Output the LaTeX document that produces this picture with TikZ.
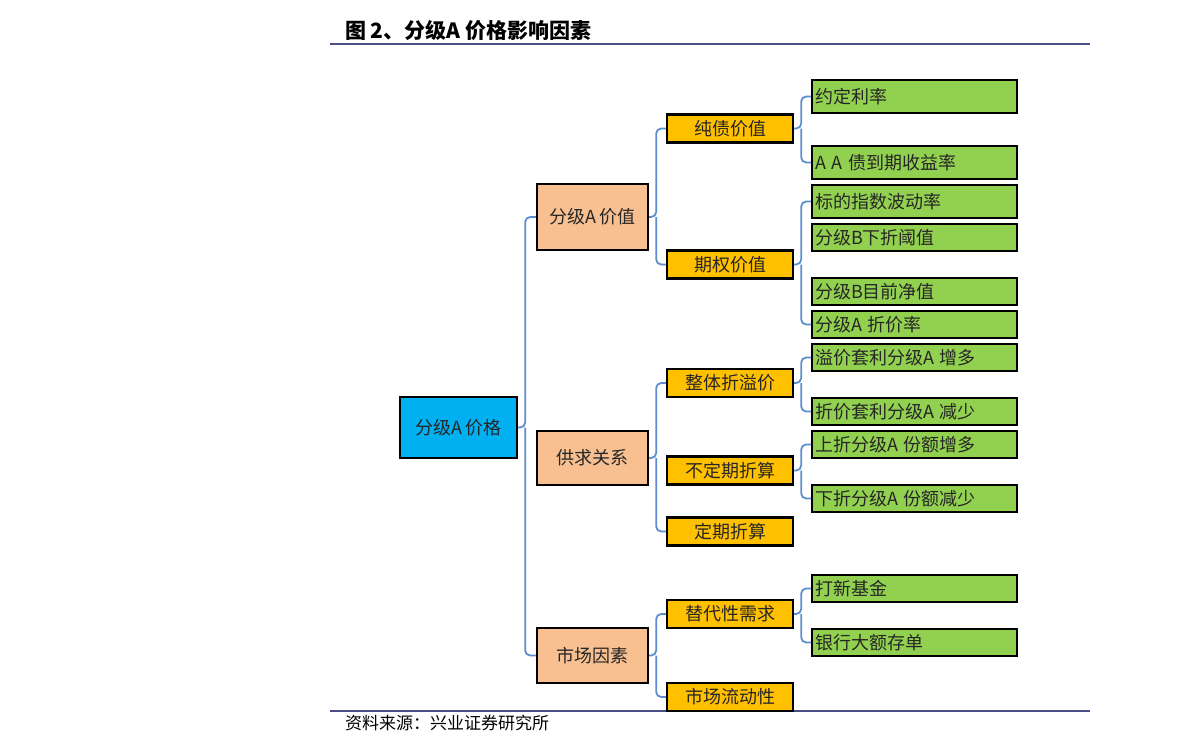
\documentclass[tikz,border=0pt]{standalone}
\usepackage{fontspec}
\setmainfont{Noto Sans CJK SC}
\usepackage{xcolor}
\definecolor{rootblue}{HTML}{00B0F0}
\definecolor{peach}{HTML}{F8C091}
\definecolor{amber}{HTML}{FFC000}
\definecolor{leafgreen}{HTML}{92D050}
\definecolor{linkblue}{HTML}{5B8DD0}
\definecolor{rulecol}{HTML}{4A4F86}
\usetikzlibrary{positioning}

\tikzset{
  box/.style={draw=black, line width=1.2pt, inner sep=0pt, font=\fontsize{9}{11}\selectfont, text=black!85},
  rootbox/.style={box, fill=rootblue, minimum width=58.5pt, minimum height=30.5pt},
  factor/.style={box, fill=peach, minimum width=55.5pt, minimum height=27pt},
  part/.style={box, fill=amber, minimum width=63pt, minimum height=14pt},
  leaf/.style={box, fill=leafgreen, text width=99.5pt, inner xsep=1.5pt, align=left, minimum height=13.5pt},
  link/.style={draw=linkblue, line width=0.9pt, rounded corners=2.5pt}
}
% accolade : parent, enfant du haut, enfant du bas
\newcommand{\bracelink}[3]{%
  \draw[link] (#1.east) -- ++(7,0) coordinate (b) |- (#2.west);
  \draw[link] (b) |- (#3.west);
}

\begin{document}
\begin{tikzpicture}[x=0.5pt, y=-0.5pt]
  \useasboundingbox (0,0) rectangle (1191,755);
  % Titre et filets
  \node[anchor=west, font=\fontsize{10.5}{12}\selectfont\bfseries] (title) at (338,31) {图 2、分级A 价格影响因素};
  \draw[rulecol, line width=1pt] (330,44) -- (1090,44);
  \draw[rulecol, line width=1pt] (330,711) -- (1090,711);
  \node[anchor=west, font=\fontsize{8.5}{10}\selectfont] (src) at (338,723) {资料来源：兴业证券研究所};

  % Racine
  \node[rootbox] (price) at (458.5,427.5) {分级A 价格};

  % Facteurs
  \node[factor, minimum height=33pt] (value) at (592.5,217) {分级A 价值};
  \node[factor] (supply) at (592.5,458) {供求关系};
  \node[factor, minimum height=27.5pt] (market) at (592.5,655.5) {市场因素};

  % Composantes
  \node[part] (bond) at (730,128.5) {纯债价值};
  \node[part] (option) at (730,264.5) {期权价值};
  \node[part] (whole) at (730,383) {整体折溢价};
  \node[part] (irreg) at (730,470.5) {不定期折算};
  \node[part] (reg) at (730,531.5) {定期折算};
  \node[part] (subst) at (730,614) {替代性需求};
  \node[part] (liquid) at (730,697) {市场流动性};

  % Feuilles
  \node[leaf, minimum height=16.5pt] (rate) at (914.5,96.5) {约定利率};
  \node[leaf, minimum height=16.5pt] (ytm) at (914.5,162.5) {A A 债到期收益率};
  \node[leaf, minimum height=16.5pt] (vol) at (914.5,201.5) {标的指数波动率};
  \node[leaf] (thresh) at (914.5,237.5) {分级B下折阈值};
  \node[leaf] (nav) at (914.5,291.5) {分级B目前净值};
  \node[leaf] (disc) at (914.5,324.5) {分级A 折价率};
  \node[leaf] (prem) at (914.5,357.5) {溢价套利分级A 增多};
  \node[leaf] (arb) at (914.5,411.5) {折价套利分级A 减少};
  \node[leaf] (up) at (914.5,444.5) {上折分级A 份额增多};
  \node[leaf] (down) at (914.5,498.5) {下折分级A 份额减少};
  \node[leaf] (ipo) at (914.5,588.5) {打新基金};
  \node[leaf] (cd) at (914.5,642.5) {银行大额存单};

  % Liaisons
  \bracelink{price}{value}{market}
  \bracelink{value}{bond}{option}
  \bracelink{supply}{whole}{reg}
  \bracelink{market}{subst}{liquid}
  \bracelink{bond}{rate}{ytm}
  \bracelink{option}{vol}{disc}
  \bracelink{whole}{prem}{arb}
  \bracelink{irreg}{up}{down}
  \bracelink{subst}{ipo}{cd}
\end{tikzpicture}
\end{document}
